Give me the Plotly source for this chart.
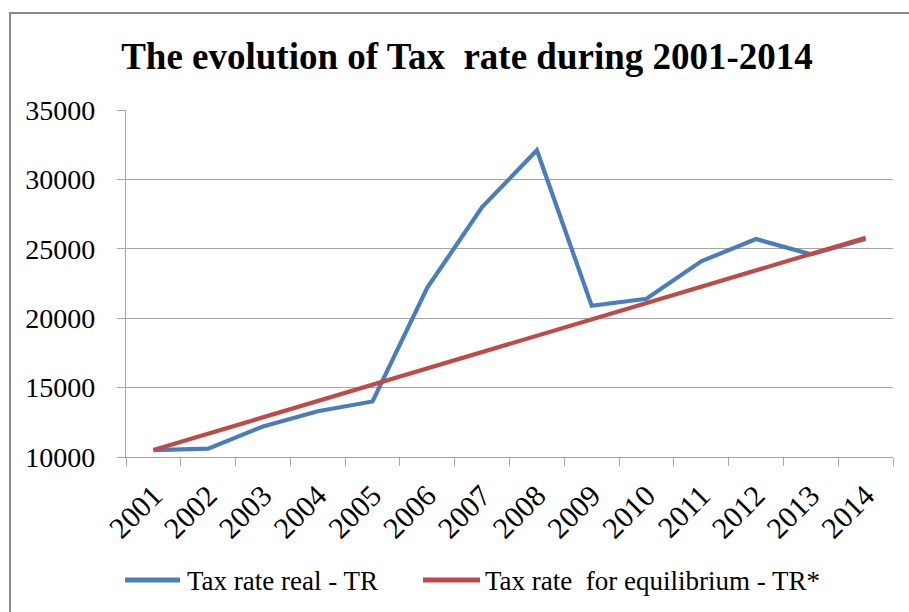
import plotly.graph_objects as go

# Data
years = ["2001", "2002", "2003", "2004", "2005", "2006", "2007",
         "2008", "2009", "2010", "2011", "2012", "2013", "2014"]
tr_real = [10500, 10600, 12200, 13300, 14000, 22200, 28000,
           32100, 20900, 21400, 24100, 25700, 24600, 25700]
tr_equilibrium = [10500, 11680, 12850, 14030, 15210, 16380, 17560,
                  18740, 19920, 21090, 22270, 23450, 24620, 25800]
y_ticks = [10000, 15000, 20000, 25000, 30000, 35000]
y_tick_labels = ["10000", "15000", "20000", "25000", "30000", "35000"]

series_names = ["Tax rate real - TR", "Tax rate\u00a0 for equilibrium - TR*"]
title_text = "The evolution of Tax\u00a0 rate during 2001-2014"

BLUE = "#4a7ebb"
RED = "#be4b48"
GRID = "#a6a6a6"
FONT = "Times New Roman, Liberation Serif, serif"

W, H = 909, 612
L, R, T, B = 126, 16, 110, 155
plot_w = W - L - R
plot_h = H - T - B


def px_x(px):
    return (px - L) / plot_w


def px_y(py):
    return (H - B - py) / plot_h


fig = go.Figure()
fig.add_trace(go.Scatter(x=years, y=tr_real, mode="lines", name=series_names[0],
                         line=dict(color=BLUE, width=4.2), showlegend=False))
fig.add_trace(go.Scatter(x=years, y=tr_equilibrium, mode="lines", name=series_names[1],
                         line=dict(color=RED, width=4.2), showlegend=False))

# Legend drawn below the axis with long line keys
legend_items = [(125, 180, 185, BLUE, series_names[0]),
                (423, 480, 483, RED, series_names[1])]
shapes = []
annotations = []
for x0, x1, tx, col, name in legend_items:
    shapes.append(dict(type="line", xref="paper", yref="paper",
                       x0=px_x(x0), x1=px_x(x1), y0=px_y(580), y1=px_y(580),
                       line=dict(color=col, width=5)))
    annotations.append(dict(xref="paper", yref="paper", x=px_x(tx), y=px_y(581),
                            xanchor="left", yanchor="middle", showarrow=False,
                            text=name, font=dict(family=FONT, size=27, color="black")))

# Chart frame
shapes.append(dict(type="rect", xref="paper", yref="paper", layer="below",
                   x0=px_x(10), x1=px_x(960), y0=px_y(660), y1=px_y(13),
                   line=dict(color="#8a8a8a", width=2), fillcolor="rgba(0,0,0,0)"))

fig.update_layout(
    width=W, height=H,
    margin=dict(l=L, r=R, t=T, b=B),
    paper_bgcolor="white", plot_bgcolor="white",
    title=dict(text=title_text, x=467 / W, xanchor="center",
               y=1 - 56 / H, yanchor="middle", yref="container",
               font=dict(family=FONT, size=37, color="black", weight="bold")),
    xaxis=dict(type="category", range=[-0.5, 13.5], tickson="boundaries",
               ticks="outside", ticklen=8, tickcolor=GRID, tickwidth=1.3,
               showline=True, linecolor=GRID, linewidth=1.3, showgrid=False,
               tickangle=-45, ticklabelstandoff=8,
               tickfont=dict(family=FONT, size=30, color="black")),
    yaxis=dict(range=[10000, 35000], tickvals=y_ticks, ticktext=y_tick_labels,
               ticks="outside", ticklen=8, tickcolor=GRID, tickwidth=1.3,
               showline=True, linecolor=GRID, linewidth=1.3,
               showgrid=True, gridcolor=GRID, gridwidth=1.3, zeroline=False,
               ticklabelstandoff=16,
               tickfont=dict(family=FONT, size=28, color="black")),
    shapes=shapes,
    annotations=annotations,
)

fig.write_html("out.html")
